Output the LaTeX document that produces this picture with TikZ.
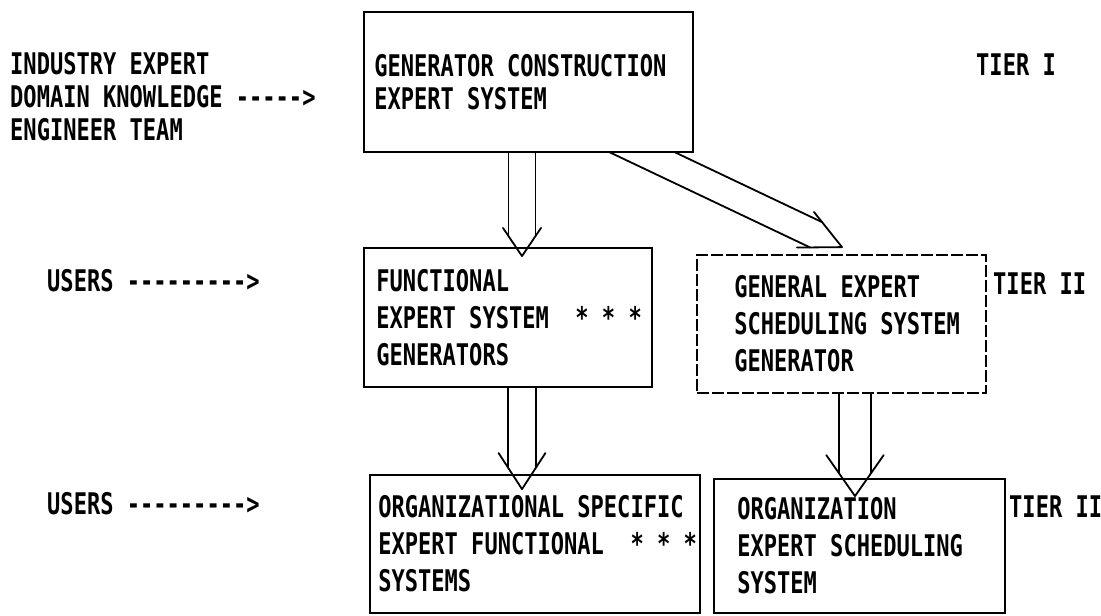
\documentclass[tikz,border=0pt]{standalone}
\usepackage{fontspec}
\newfontfamily\scanfont[FakeStretch=0.74, Ligatures=TeXOff]{DejaVu Sans Mono}
\usetikzlibrary{calc}

\begin{document}
\begin{tikzpicture}[x=1pt, y=-1pt,
  box/.style={draw, line width=1.8pt, inner sep=0pt},
  brokenbox/.style={box, dash pattern=on 12pt off 3pt},
  txt/.style={font=\scanfont\bfseries\fontsize{29.8pt}{37pt}\selectfont, inner sep=0pt, align=left},
  tighttxt/.style={txt, font=\scanfont\bfseries\fontsize{29.8pt}{33pt}\selectfont},
  arrowline/.style={line width=1.8pt, line cap=round, line join=round}]

\useasboundingbox (0,0) rectangle (1101,616);

% hollow arrow: start, tip, half width, half angle, barb length
\def\hollowarrow#1#2#3#4#5{
  \pgfmathsetmacro\shaftcut{#3/tan(#4)}
  \coordinate (cut) at ($(#2)!\shaftcut pt!(#1)$);
  \draw[arrowline] ($(#1)!#3pt!90:(#2)$) -- ($(cut)!#3pt!90:(#2)$);
  \draw[arrowline] ($(#1)!#3pt!-90:(#2)$) -- ($(cut)!#3pt!-90:(#2)$);
  \draw[arrowline] ($(#2)!#5pt!#4:(#1)$) -- (#2) -- ($(#2)!#5pt!-#4:(#1)$);
}

% boxes
\node[box, minimum width=329pt, minimum height=140pt] (gen) at (528.5,82) {};
\node[box, minimum width=288pt, minimum height=139pt] (func) at (508,317.5) {};
\node[brokenbox, minimum width=289pt, minimum height=138pt] (sched) at (841.5,324) {};
\node[box, minimum width=330pt, minimum height=138pt] (orgfunc) at (535,544) {};
\node[box, minimum width=291pt, minimum height=134pt] (orgsched) at (859.5,546) {};

% box texts
\node[tighttxt, anchor=west] (gentext) at ([xshift=11pt]gen.west) {GENERATOR CONSTRUCTION\\EXPERT SYSTEM};
\node[txt, anchor=west] (functext) at ([xshift=13pt]func.west) {FUNCTIONAL\\EXPERT SYSTEM\ \ * * *\\GENERATORS};
\node[txt, anchor=west] (schedtext) at ([xshift=38pt]sched.west) {GENERAL EXPERT\\SCHEDULING SYSTEM\\GENERATOR};
\node[txt, anchor=west] (orgfunctext) at ([xshift=9pt]orgfunc.west) {ORGANIZATIONAL SPECIFIC\\EXPERT FUNCTIONAL\ \ * * *\\SYSTEMS};
\node[txt, anchor=west] (orgschedtext) at ([xshift=24pt]orgsched.west) {ORGANIZATION\\EXPERT SCHEDULING\\SYSTEM};

% inputs and tiers
\node[tighttxt, anchor=west] (experts) at (10,97) {INDUSTRY EXPERT\\DOMAIN KNOWLEDGE ----->\\ENGINEER TEAM};
\node[txt, anchor=west] (users1) at (47,281) {USERS --------->};
\node[txt, anchor=west] (users2) at (47,504) {USERS --------->};
\node[txt, anchor=west] (tier1) at (976,65) {TIER I};
\node[txt, anchor=west] (tier2) at (993,284) {TIER II};
\node[txt, anchor=west] (tier3) at (1009,507) {TIER II};

% arrow ends
\coordinate (tipa) at ([xshift=14pt, yshift=-9pt]func.north);
\coordinate (tipb) at ([xshift=-13pt, yshift=-15pt]orgfunc.north);
\coordinate (tipc) at ([xshift=-4.5pt, yshift=-18pt]orgsched.north);
\coordinate (tipd) at ([xshift=0.5pt, yshift=7pt]sched.north);
\coordinate (starta) at (gen.south -| tipa);
\coordinate (startb) at (func.south -| tipb);
\coordinate (startc) at (sched.south -| tipc);
\coordinate (startd) at ([xshift=83.5pt, yshift=15pt]gen.south);

\hollowarrow{starta}{tipa}{13.5}{34}{34}
\hollowarrow{startb}{tipb}{14}{33}{43}
\hollowarrow{startc}{tipc}{16}{35}{50}

% slanted arrow, cut off at the bottom edge of the top box
\begin{scope}
  \clip (gen.south west) rectangle (orgsched.south east);
  \hollowarrow{startd}{tipd}{14}{26}{45}
\end{scope}

\end{tikzpicture}
\end{document}
